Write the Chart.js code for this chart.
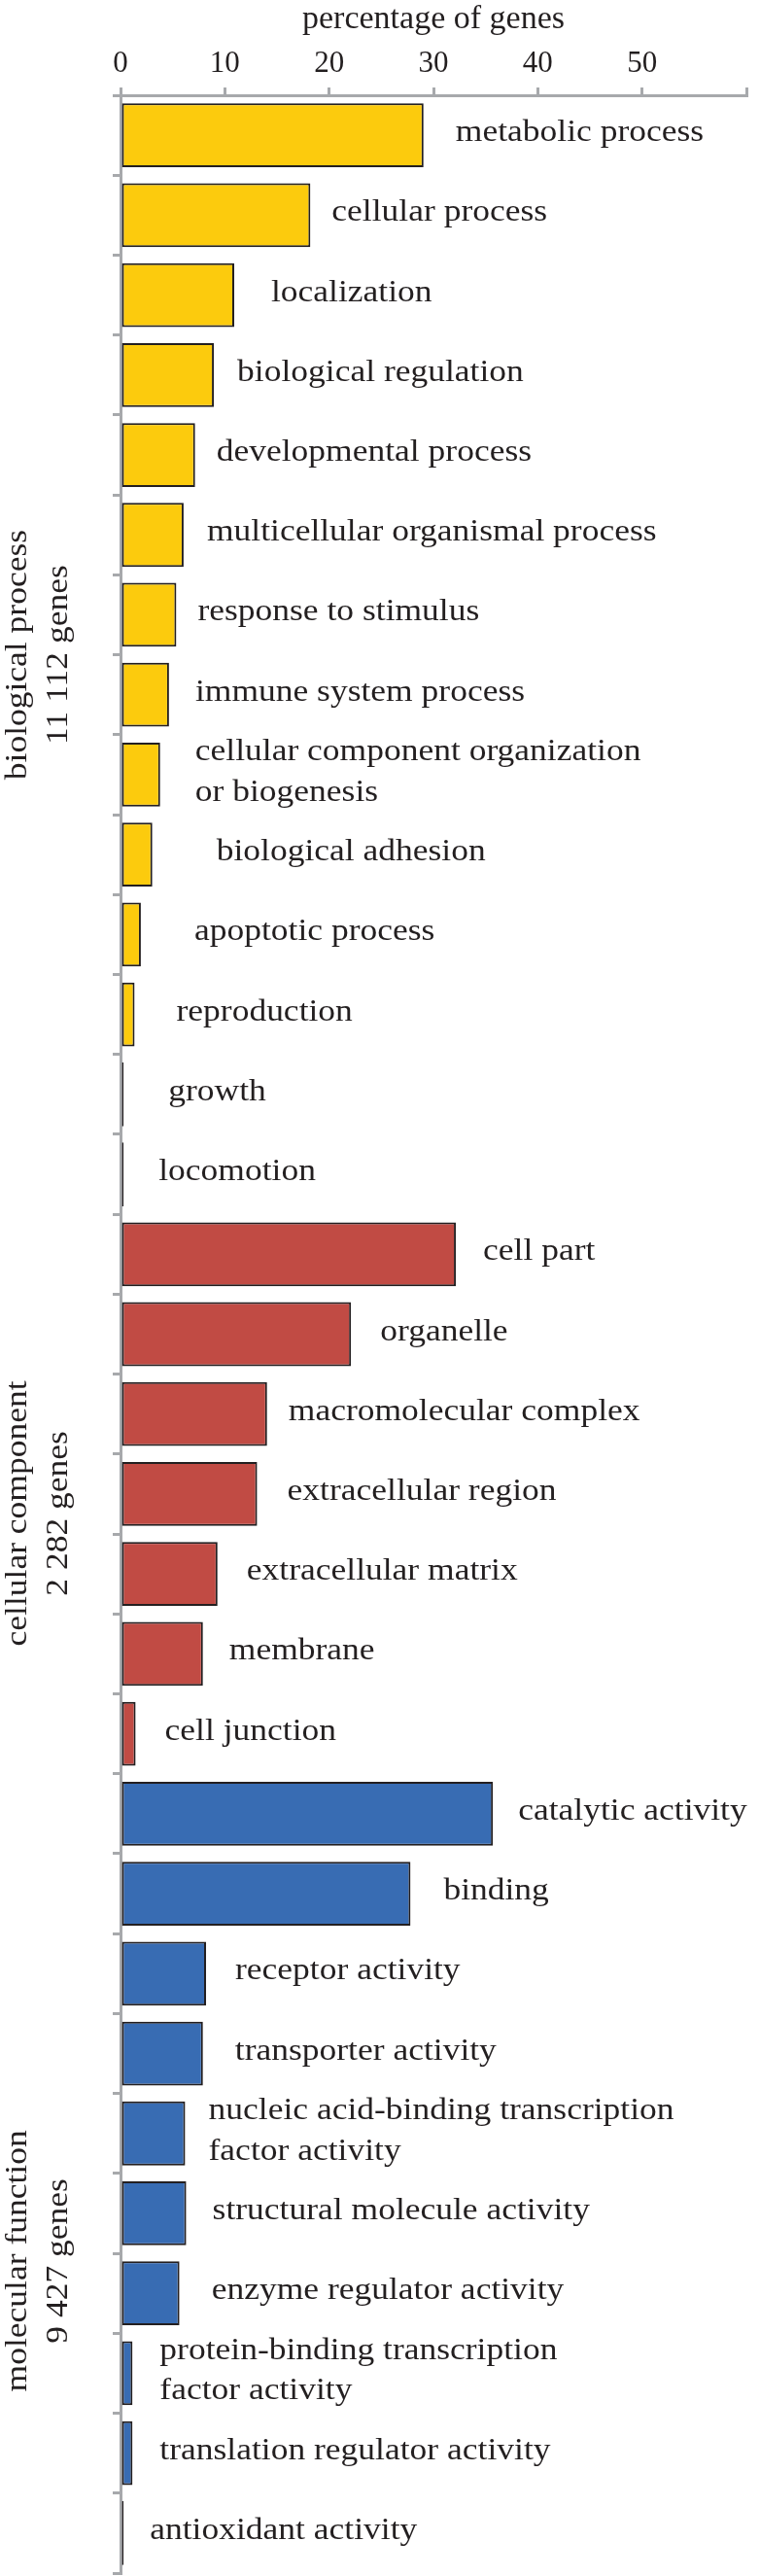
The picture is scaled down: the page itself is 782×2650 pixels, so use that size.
<!DOCTYPE html>
<html>
<head>
<meta charset="utf-8">
<script src="https://cdn.jsdelivr.net/npm/chart.js@4.4.1/dist/chart.umd.min.js"></script>
<style>
  html, body { margin: 0; padding: 0; background: #fff; }
  #wrap { position: relative; width: 782px; height: 2650px; }
</style>
</head>
<body>
<div id="wrap"><canvas id="chart"></canvas></div>
<script>
// GO term categories, top to bottom, with percentage of genes in each
const bpLabels = ['metabolic process', 'cellular process', 'localization', 'biological regulation',
  'developmental process', 'multicellular organismal process', 'response to stimulus',
  'immune system process', ['cellular component organization', 'or biogenesis'],
  'biological adhesion', 'apoptotic process', 'reproduction', 'growth', 'locomotion'];
const bpValues = [29.05, 18.2, 10.9, 8.95, 7.15, 6.05, 5.35, 4.65, 3.8, 3.05, 1.95, 1.35, 0.3, 0.3];

const ccLabels = ['cell part', 'organelle', 'macromolecular complex', 'extracellular region',
  'extracellular matrix', 'membrane', 'cell junction'];
const ccValues = [32.15, 22.1, 14.05, 13.1, 9.3, 7.9, 1.45];

const mfLabels = ['catalytic activity', 'binding', 'receptor activity', 'transporter activity',
  ['nucleic acid-binding transcription', 'factor activity'], 'structural molecule activity',
  'enzyme regulator activity', ['protein-binding transcription', 'factor activity'],
  'translation regulator activity', 'antioxidant activity'];
const mfValues = [35.7, 27.8, 8.2, 7.9, 6.2, 6.3, 5.65, 1.15, 1.15, 0.3];

const groupNames = ['biological process', 'cellular component', 'molecular function'];
const groupGenes = ['11 112 genes', '2 282 genes', '9 427 genes'];
const xTicks = [0, 10, 20, 30, 40, 50]; // labelled; the axis itself runs on to 60

// styling
const INK = '#231f20';
const AXIS = '#a7a9ac';
const groupColors = ['#fccb0d', '#c14b44', '#386cb3'];
const STRETCH = 1.145;   // the figure's text is a bit wider than plain Times
const LABEL_SIZE = 31;
const LINE_H = 41.7;
// gap in px between the end of each bar and its label (the labels were placed by hand)
const labelGap = [33, 22, 38, 24, 22, 24, 22, 27, 36, 66, 55, 43, 46, 36,
  28, 30, 22, 31, 30, 27, 30,
  26, 34, 30, 33, 24, 27, 33, 28, 28, 27];
// the group names are not quite centred on their block
const groupShift = [0, 20, 90];

const labels = [...bpLabels, ...ccLabels, ...mfLabels];
const values = [...bpValues, ...ccValues, ...mfValues];
const groupSizes = [bpValues.length, ccValues.length, mfValues.length];
const colors = [];
groupSizes.forEach((n, g) => { for (let i = 0; i < n; i++) colors.push(groupColors[g]); });

Chart.defaults.font.family = '"Liberation Serif", "Times New Roman", serif';
Chart.defaults.color = INK;

function stretchedText(ctx, text, x, y, rot) {
  ctx.save();
  ctx.translate(x, y);
  if (rot) ctx.rotate(rot);
  ctx.scale(STRETCH, 1);
  ctx.fillText(text, 0, 0);
  ctx.restore();
}

// draws the term next to each bar and the rotated group names on the left
const termLabels = {
  id: 'termLabels',
  afterDatasetsDraw(chart) {
    const ctx = chart.ctx;
    const meta = chart.getDatasetMeta(0);
    ctx.save();
    ctx.font = LABEL_SIZE + 'px "Liberation Serif"';
    ctx.fillStyle = INK;
    ctx.textBaseline = 'alphabetic';
    ctx.textAlign = 'left';
    meta.data.forEach((bar, i) => {
      const lines = [].concat(labels[i]);
      const x = bar.x + labelGap[i];
      const y0 = bar.y - (lines.length - 1) * LINE_H / 2 + 6;
      lines.forEach((line, k) => stretchedText(ctx, line, x, y0 + k * LINE_H, 0));
    });

    const yScale = chart.scales.y;
    ctx.textAlign = 'center';
    let start = 0;
    groupSizes.forEach((n, g) => {
      const cy = (yScale.getPixelForValue(start) + yScale.getPixelForValue(start + n - 1)) / 2 + groupShift[g];
      stretchedText(ctx, groupNames[g], 27, cy, -Math.PI / 2);
      stretchedText(ctx, groupGenes[g], 69, cy, -Math.PI / 2);
      start += n;
    });
    ctx.restore();
  }
};

const ctx = document.getElementById('chart').getContext('2d');
const chart = new Chart(ctx, {
  type: 'bar',
  data: {
    labels: labels,
    datasets: [{
      data: values,
      backgroundColor: colors,
      borderColor: INK,
      borderWidth: 2,
      borderSkipped: false,
      barPercentage: 1,
      categoryPercentage: 0.8
    }]
  },
  options: {
    indexAxis: 'y',
    responsive: true,
    maintainAspectRatio: false,
    animation: false,
    layout: { padding: { left: 0, right: 14, top: 0, bottom: 3 } },
    scales: {
      x: {
        position: 'top',
        min: 0,
        max: 60,
        afterBuildTicks: (scale) => {
          scale.ticks = [...xTicks, 60].map(v => ({ value: v }));
        },
        afterFit: (scale) => { scale.height = 98; },
        ticks: {
          padding: 6,
          font: { size: 31 },
          color: INK,
          callback: (v) => xTicks.includes(v) ? String(v) : ''
        },
        grid: { drawOnChartArea: false, tickLength: 8, color: AXIS, lineWidth: 3 },
        border: { color: AXIS, width: 3 },
        title: {
          display: true,
          text: 'percentage of genes',
          font: { size: 34 },
          color: INK,
          padding: { top: 0, bottom: 0 }
        }
      },
      y: {
        afterFit: (scale) => { scale.width = 124; },
        ticks: { display: false },
        grid: { drawOnChartArea: false, tickLength: 8, color: AXIS, lineWidth: 3 },
        border: { color: AXIS, width: 3 }
      }
    },
    plugins: {
      legend: { display: false },
      tooltip: { enabled: false }
    }
  },
  plugins: [termLabels]
});
</script>
</body>
</html>
